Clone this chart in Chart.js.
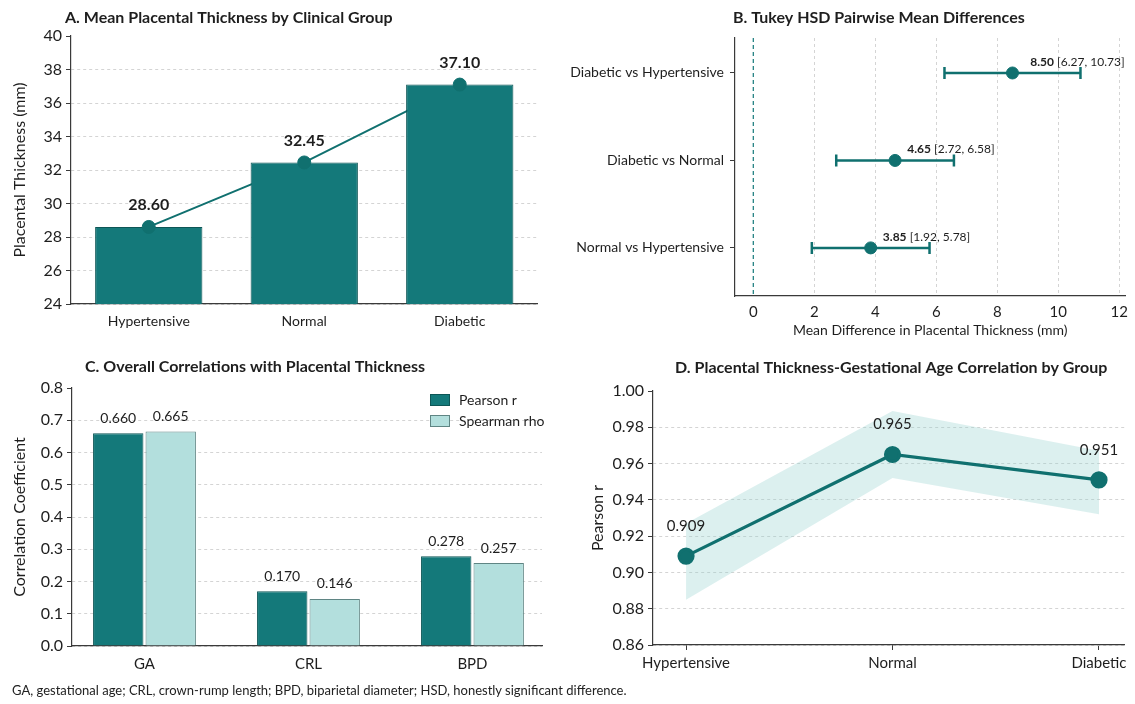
<!DOCTYPE html>
<html>
<head>
<meta charset="utf-8">
<script src="https://cdn.jsdelivr.net/npm/chart.js@4.4.1/dist/chart.umd.min.js"></script>
<style>
  html, body { margin: 0; padding: 0; background: #ffffff; }
  body { width: 1135px; height: 704px; position: relative; overflow: hidden; font-family: Lato, "Open Sans", sans-serif; }
  canvas { position: absolute; }
  #note { position: absolute; left: 12px; top: 682px; font-size: 13px; color: #222; white-space: nowrap; }
</style>
</head>
<body>
<canvas id="panelA" width="545" height="345" style="left:0px;top:0px"></canvas>
<canvas id="panelB" width="575" height="345" style="left:560px;top:0px"></canvas>
<canvas id="panelC" width="565" height="340" style="left:0px;top:350px"></canvas>
<canvas id="panelD" width="565" height="345" style="left:570px;top:350px"></canvas>
<div id="note">GA, gestational age; CRL, crown-rump length; BPD, biparietal diameter; HSD, honestly significant difference.</div>

<script>
// ---- data ----
const groups = ['Hypertensive', 'Normal', 'Diabetic'];
const meanThickness = [28.60, 32.45, 37.10];

const comparisons = ['Diabetic vs Hypertensive', 'Diabetic vs Normal', 'Normal vs Hypertensive'];
const meanDiff = [8.50, 4.65, 3.85];
const ciLower = [6.27, 2.72, 1.92];
const ciUpper = [10.73, 6.58, 5.78];
const diffTicks = [0, 2, 4, 6, 8, 10, 12];

const measures = ['GA', 'CRL', 'BPD'];
const pearsonR = [0.660, 0.170, 0.278];
const spearmanRho = [0.665, 0.146, 0.257];

const groupR = [0.909, 0.965, 0.951];
const groupRLower = [0.885, 0.952, 0.932];
const groupRUpper = [0.927, 0.989, 0.967];

// ---- style ----
const FONT = 'Lato, "Open Sans", sans-serif';
const TEAL = '#14797a';
const TEAL_DARK = '#10706f';
const TEAL_EDGE = '#0d5656';
const LIGHT = '#b3dfdd';
const LIGHT_EDGE = '#5f8584';
const BAND = 'rgba(150, 210, 206, 0.33)';
const GRID = '#d4d4d4';
const AXIS = '#3a3a3a';
const TXT = '#1e1e1e';

Chart.defaults.font.family = FONT;
Chart.defaults.color = TXT;
Chart.defaults.animation = false;
Chart.defaults.responsive = false;
Chart.defaults.plugins.legend.display = false;
Chart.defaults.plugins.tooltip.enabled = false;

// panel heading drawn at a fixed spot of each canvas
const headingPlugin = {
  id: 'heading',
  afterDraw(chart, args, opts) {
    if (!opts || !opts.text) return;
    const ctx = chart.ctx;
    ctx.save();
    ctx.font = `bold ${opts.size || 16}px ${FONT}`;
    ctx.fillStyle = TXT;
    ctx.textAlign = 'left';
    ctx.textBaseline = 'middle';
    ctx.fillText(opts.text, opts.x, opts.y);
    ctx.restore();
  }
};
Chart.register(headingPlugin);

function hideAtMax(maxVal) {
  return (c) => (c.tick && Math.abs(c.tick.value - maxVal) < 1e-9) ? 'rgba(0,0,0,0)' : GRID;
}

// ---------- A: mean thickness bars ----------
new Chart(document.getElementById('panelA'), {
  type: 'bar',
  data: {
    labels: groups,
    datasets: [
      { type: 'line', data: meanThickness, borderColor: TEAL_DARK, borderWidth: 2, pointRadius: 0, order: 3 },
      { type: 'bar', data: meanThickness, backgroundColor: TEAL, borderColor: TEAL_EDGE, borderWidth: 1,
        categoryPercentage: 0.69, barPercentage: 1.0, order: 2 },
      { type: 'line', data: meanThickness, showLine: false, pointRadius: 6.5,
        pointBackgroundColor: TEAL_DARK, pointBorderColor: TEAL_DARK, order: 1 }
    ]
  },
  options: {
    layout: { padding: { top: 36, right: 5, left: 0, bottom: 0 } },
    scales: {
      x: {
        grid: { display: false, drawTicks: false },
        border: { color: AXIS, width: 1.2 },
        ticks: { font: { size: 14 }, padding: 9, color: TXT },
        afterFit(s) { s.height = 41; }
      },
      y: {
        min: 24, max: 40,
        ticks: { stepSize: 2, font: { size: 16 }, padding: 4, color: TXT },
        grid: { color: hideAtMax(40), tickColor: AXIS, tickLength: 5, lineWidth: 1 },
        border: { color: AXIS, width: 1.2, dash: [3, 3] },
        title: { display: true, text: 'Placental Thickness (mm)', font: { size: 16 }, padding: { top: 10, bottom: 0 }, color: TXT },
        afterFit(s) { s.width = 71; }
      }
    },
    plugins: { heading: { text: 'A. Mean Placental Thickness by Clinical Group', x: 65, y: 18 } }
  },
  plugins: [{
    id: 'labelsA',
    afterDatasetsDraw(chart) {
      const ctx = chart.ctx;
      const meta = chart.getDatasetMeta(2);
      ctx.save();
      ctx.font = `bold 16px ${FONT}`;
      ctx.fillStyle = TXT;
      ctx.textAlign = 'center';
      ctx.textBaseline = 'middle';
      meta.data.forEach((pt, i) => ctx.fillText(meanThickness[i].toFixed(2), pt.x, pt.y - 22));
      ctx.restore();
    }
  }]
});

// ---------- B: Tukey HSD forest plot ----------
const rowOf = (i) => comparisons.length - 1 - i;
new Chart(document.getElementById('panelB'), {
  type: 'scatter',
  data: {
    datasets: [{
      data: meanDiff.map((m, i) => ({ x: m, y: rowOf(i) })),
      pointRadius: 6, backgroundColor: TEAL_DARK, borderColor: TEAL_DARK
    }]
  },
  options: {
    layout: { padding: { top: 38, right: 7, left: 0, bottom: 0 } },
    scales: {
      x: {
        type: 'linear', min: -0.6, max: 12.2,
        afterBuildTicks(s) { s.ticks = diffTicks.map(v => ({ value: v })); },
        ticks: { font: { size: 15 }, padding: 7, color: TXT },
        grid: { color: (c) => (c.tick && c.tick.value === 0) ? 'rgba(0,0,0,0)' : GRID, drawTicks: false },
        border: { color: AXIS, width: 1.2, dash: [3, 3] },
        title: { display: true, text: 'Mean Difference in Placental Thickness (mm)', font: { size: 14 }, padding: { top: 2, bottom: 6 }, color: TXT },
        afterFit(s) { s.height = 49; }
      },
      y: {
        type: 'linear', min: -0.55, max: 2.4,
        afterBuildTicks(s) { s.ticks = [0, 1, 2].map(v => ({ value: v })); },
        ticks: { callback: (v) => comparisons[rowOf(v)], font: { size: 14 }, padding: 6, color: TXT },
        grid: { drawOnChartArea: false, tickColor: AXIS, tickLength: 5 },
        border: { color: AXIS, width: 1.2 },
        afterFit(s) { s.width = 175; }
      }
    },
    plugins: { heading: { text: 'B. Tukey HSD Pairwise Mean Differences', x: 173, y: 18 } }
  },
  plugins: [{
    id: 'intervalsB',
    beforeDatasetsDraw(chart) {
      const { ctx, chartArea, scales: { x, y } } = chart;
      ctx.save();
      // reference line at zero difference
      ctx.strokeStyle = TEAL;
      ctx.lineWidth = 1.2;
      ctx.setLineDash([4, 3]);
      const x0 = x.getPixelForValue(0);
      ctx.beginPath();
      ctx.moveTo(x0, chartArea.top);
      ctx.lineTo(x0, chartArea.bottom);
      ctx.stroke();
      ctx.setLineDash([]);
      // confidence intervals with caps
      ctx.strokeStyle = TEAL_DARK;
      ctx.lineWidth = 2.5;
      meanDiff.forEach((m, i) => {
        const py = y.getPixelForValue(rowOf(i));
        const xl = x.getPixelForValue(ciLower[i]);
        const xh = x.getPixelForValue(ciUpper[i]);
        ctx.beginPath();
        ctx.moveTo(xl, py); ctx.lineTo(xh, py);
        ctx.moveTo(xl, py - 6); ctx.lineTo(xl, py + 6);
        ctx.moveTo(xh, py - 6); ctx.lineTo(xh, py + 6);
        ctx.stroke();
      });
      ctx.restore();
    },
    afterDatasetsDraw(chart) {
      const { ctx, scales: { x, y } } = chart;
      ctx.save();
      ctx.textBaseline = 'middle';
      ctx.fillStyle = TXT;
      meanDiff.forEach((m, i) => {
        const head = m.toFixed(2);
        const tail = ` [${ciLower[i].toFixed(2)}, ${ciUpper[i].toFixed(2)}]`;
        ctx.font = `bold 12px ${FONT}`;
        const w1 = ctx.measureText(head).width;
        ctx.font = `12px ${FONT}`;
        const w2 = ctx.measureText(tail).width;
        const cx = x.getPixelForValue(ciUpper[i]) - 3;
        const py = y.getPixelForValue(rowOf(i)) - 11;
        const left = cx - (w1 + w2) / 2;
        ctx.textAlign = 'left';
        ctx.font = `bold 12px ${FONT}`;
        ctx.fillText(head, left, py);
        ctx.font = `12px ${FONT}`;
        ctx.fillText(tail, left + w1, py);
      });
      ctx.restore();
    }
  }]
});

// ---------- C: overall correlations ----------
const xyC = (arr) => arr.map((v, i) => ({ x: i, y: v }));
new Chart(document.getElementById('panelC'), {
  type: 'bar',
  data: {
    datasets: [
      { label: 'Pearson r', data: xyC(pearsonR), backgroundColor: TEAL, borderColor: TEAL_EDGE, borderWidth: 1 },
      { label: 'Spearman rho', data: xyC(spearmanRho), backgroundColor: LIGHT, borderColor: LIGHT_EDGE, borderWidth: 1 }
    ]
  },
  options: {
    datasets: { bar: { categoryPercentage: 0.64, barPercentage: 0.96, borderSkipped: 'start' } },
    layout: { padding: { top: 38, right: 23, left: 0, bottom: 0 } },
    scales: {
      x: {
        type: 'linear', min: -0.442, max: 2.424, offset: false,
        afterBuildTicks(s) { s.ticks = [0, 1, 2].map(v => ({ value: v })); },
        grid: { display: false, drawTicks: false },
        border: { color: AXIS, width: 1.2 },
        ticks: { callback: (v) => measures[v], font: { size: 15 }, padding: 9, color: TXT },
        afterFit(s) { s.height = 44; }
      },
      y: {
        min: 0, max: 0.8,
        ticks: { stepSize: 0.1, callback: (v) => v.toFixed(1), font: { size: 16 }, padding: 4, color: TXT },
        grid: { color: hideAtMax(0.8), tickColor: AXIS, tickLength: 5 },
        border: { color: AXIS, width: 1.2, dash: [3, 3] },
        title: { display: true, text: 'Correlation Coefficient', font: { size: 16 }, padding: { top: 10, bottom: 0 }, color: TXT },
        afterFit(s) { s.width = 72; }
      }
    },
    plugins: { heading: { text: 'C. Overall Correlations with Placental Thickness', x: 85, y: 17 } }
  },
  plugins: [{
    id: 'labelsC',
    afterDatasetsDraw(chart) {
      const ctx = chart.ctx;
      ctx.save();
      ctx.font = `14px ${FONT}`;
      ctx.fillStyle = TXT;
      ctx.textAlign = 'center';
      ctx.textBaseline = 'middle';
      chart.data.datasets.forEach((ds, di) => {
        chart.getDatasetMeta(di).data.forEach((bar, i) => {
          ctx.fillText(ds.data[i].y.toFixed(3), bar.x, bar.y - 15);
        });
      });
      // legend box
      const ca = chart.chartArea;
      const bx = ca.right - 112, by = ca.top + 6;
      chart.data.datasets.forEach((ds, di) => {
        const y0 = by + di * 21;
        ctx.fillStyle = ds.backgroundColor;
        ctx.strokeStyle = ds.borderColor;
        ctx.lineWidth = 1;
        ctx.fillRect(bx, y0, 20, 12);
        ctx.strokeRect(bx + 0.5, y0 + 0.5, 19, 11);
        ctx.fillStyle = TXT;
        ctx.textAlign = 'left';
        ctx.font = `14px ${FONT}`;
        ctx.fillText(ds.label, bx + 29, y0 + 6);
      });
      ctx.restore();
    }
  }]
});

// ---------- D: group correlation line with band ----------
new Chart(document.getElementById('panelD'), {
  type: 'line',
  data: {
    datasets: [
      { data: groupRLower.map((v, i) => ({ x: i, y: v })), borderWidth: 0, pointRadius: 0, fill: false, order: 3 },
      { data: groupRUpper.map((v, i) => ({ x: i, y: v })), borderWidth: 0, pointRadius: 0, fill: '-1', backgroundColor: BAND, order: 2 },
      { data: groupR.map((v, i) => ({ x: i, y: v })), borderColor: TEAL_DARK, borderWidth: 3.2, pointRadius: 7,
        pointBackgroundColor: TEAL_DARK, pointBorderColor: TEAL_DARK, fill: false, order: 1 }
    ]
  },
  options: {
    layout: { padding: { top: 41, right: 5, left: 0, bottom: 0 } },
    scales: {
      x: {
        type: 'linear', min: -0.16, max: 2.125,
        afterBuildTicks(s) { s.ticks = [0, 1, 2].map(v => ({ value: v })); },
        ticks: { callback: (v) => groups[v], font: { size: 15 }, padding: 4, color: TXT },
        grid: { drawOnChartArea: false, tickColor: AXIS, tickLength: 5 },
        border: { color: AXIS, width: 1.2 },
        afterFit(s) { s.height = 50; }
      },
      y: {
        min: 0.86, max: 1.0,
        ticks: { stepSize: 0.02, callback: (v) => v.toFixed(2), font: { size: 16 }, padding: 4, color: TXT },
        grid: { color: hideAtMax(1.0), tickColor: AXIS, tickLength: 5 },
        border: { color: AXIS, width: 1.2, dash: [3, 3] },
        title: { display: true, text: 'Pearson r', font: { size: 16 }, padding: { top: 18, bottom: 0 }, color: TXT },
        afterFit(s) { s.width = 83; }
      }
    },
    plugins: { heading: { text: 'D. Placental Thickness-Gestational Age Correlation by Group', x: 105, y: 18 } }
  },
  plugins: [{
    id: 'labelsD',
    afterDatasetsDraw(chart) {
      const ctx = chart.ctx;
      const meta = chart.getDatasetMeta(2);
      ctx.save();
      ctx.font = `15px ${FONT}`;
      ctx.fillStyle = TXT;
      ctx.textAlign = 'center';
      ctx.textBaseline = 'middle';
      meta.data.forEach((pt, i) => ctx.fillText(groupR[i].toFixed(3), pt.x, pt.y - 30));
      ctx.restore();
    }
  }]
});
</script>
</body>
</html>
